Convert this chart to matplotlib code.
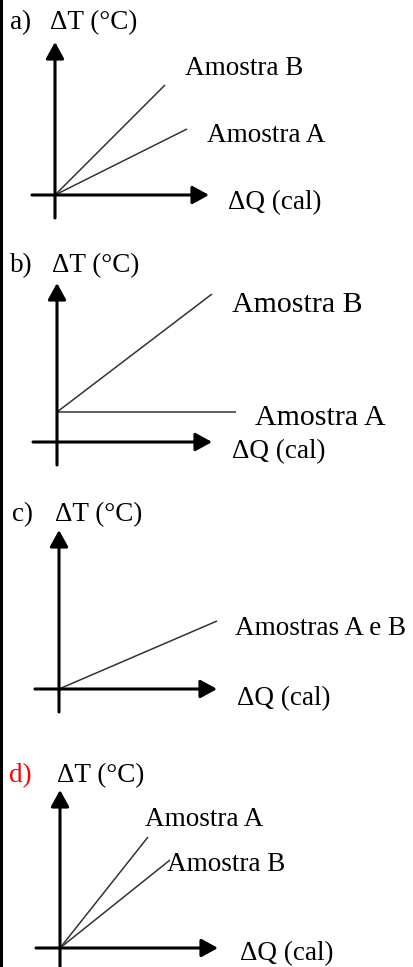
import matplotlib
matplotlib.use("Agg")
import matplotlib.pyplot as plt

# fonte serifada parecida com Times
plt.rcParams['font.family'] = ['Liberation Serif', 'DejaVu Serif']

W, H = 414, 967

# rótulos dos painéis
panel_labels = ['a)', 'b)', 'c)', 'd)']
label_colors = ['black', 'black', 'black', 'red']

# retas (ΔQ, ΔT) de cada painel, em unidades arbitrárias
qa_B = [0, 110]
ta_B = [0, 110]
qa_A = [0, 132]
ta_A = [0, 66]

qb_B = [0, 155]
tb_B = [30, 148]
qb_A = [0, 179]
tb_A = [30, 30]

qc_AB = [0, 158]
tc_AB = [0, 68]

qd_A = [0, 88]
td_A = [0, 111]
qd_B = [0, 110]
td_B = [0, 88]

fig = plt.figure(figsize=(W / 100, H / 100), dpi=100)
fig.patch.set_facecolor('white')

# borda preta à esquerda
fig.add_artist(plt.Line2D([1.5 / W, 1.5 / W], [0, 1], color='black', lw=2.2))


def make_panel(top, bottom, ox, oy):
    """eixo com 1 unidade = 1 pixel e origem do gráfico em (ox, oy)"""
    ax = fig.add_axes([0, 1 - bottom / H, 1, (bottom - top) / H])
    ax.set_xlim(-ox, W - ox)
    ax.set_ylim(-(bottom - oy), oy - top)
    ax.axis('off')
    return ax


def draw_axes(ax, x_min, x_max, y_min, y_max):
    arrow = dict(arrowstyle='-|>,head_length=1.0,head_width=0.55', color='black',
                 lw=2.2, mutation_scale=10, shrinkA=0, shrinkB=0)
    ax.annotate('', xy=(x_max, 0), xytext=(x_min, 0), arrowprops=arrow)
    ax.annotate('', xy=(0, y_max), xytext=(0, y_min), arrowprops=arrow)


def txt(ax, x, y, s, size=19.5, color='black'):
    ax.text(x, y, s, fontsize=size, color=color, ha='left', va='baseline')


line_kw = dict(color='#333333', lw=1.1, solid_capstyle='butt')

# ---- a)
ax = make_panel(0, 240, 55, 195)
draw_axes(ax, -23, 154, -23, 153)
ax.plot(qa_B, ta_B, **line_kw)
ax.plot(qa_A, ta_A, **line_kw)
txt(ax, -45, 166, panel_labels[0], color=label_colors[0])
txt(ax, -5, 166, 'ΔT (°C)')
txt(ax, 130, 120, 'Amostra B')
txt(ax, 152, 53, 'Amostra A')
txt(ax, 173, -14, 'ΔQ (cal)')

# ---- b)
ax = make_panel(240, 480, 57, 442)
draw_axes(ax, -24, 155, -23, 159)
ax.plot(qb_B, tb_B, **line_kw)
ax.plot(qb_A, tb_A, **line_kw)
txt(ax, -47, 170, panel_labels[1], color=label_colors[1])
txt(ax, -5, 170, 'ΔT (°C)')
txt(ax, 175, 130, 'Amostra B', size=21.5)
txt(ax, 198, 17, 'Amostra A', size=21.5)
txt(ax, 175, -16, 'ΔQ (cal)')

# ---- c)
ax = make_panel(480, 720, 59, 689)
draw_axes(ax, -24, 158, -23, 159)
ax.plot(qc_AB, tc_AB, **line_kw)
txt(ax, -47, 168, panel_labels[2], color=label_colors[2])
txt(ax, -4, 168, 'ΔT (°C)')
txt(ax, 176, 54, 'Amostras A e B')
txt(ax, 178, -16, 'ΔQ (cal)')

# ---- d)
ax = make_panel(720, 967, 60, 948)
draw_axes(ax, -24, 158, -30, 158)
ax.plot(qd_A, td_A, **line_kw)
ax.plot(qd_B, td_B, **line_kw)
txt(ax, -51, 166, panel_labels[3], color=label_colors[3])
txt(ax, -3, 166, 'ΔT (°C)')
txt(ax, 85, 122, 'Amostra A')
txt(ax, 107, 77, 'Amostra B')
txt(ax, 180, -12, 'ΔQ (cal)')

fig.savefig('out.png', dpi=100, facecolor='white')
